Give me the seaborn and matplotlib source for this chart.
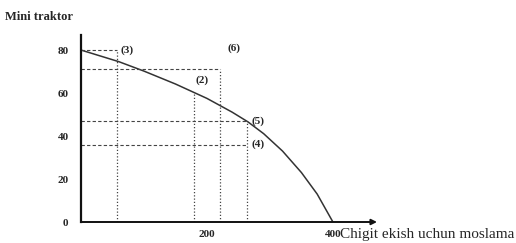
import matplotlib
matplotlib.use("Agg")
import matplotlib.pyplot as plt
import seaborn as sns
import pandas as pd

# production possibility curve
chigit = [0, 60, 100, 150, 200, 240, 265, 290, 320, 350, 375, 400]
traktor = [80, 74.6, 70.2, 64.2, 57.5, 51.1, 46.6, 41.1, 33, 23, 13, 0]

# guide lines: (x, y top) verticals and (y, x end) horizontals
vert_x = [57, 179, 221, 263]
vert_top = [80, 60, 71, 47]
horiz_y = [80, 71, 47, 36]
horiz_end = [57, 221, 263, 263]

# point labels
point_names = ["(3)", "(6)", "(2)", "(5)", "(4)"]
point_x = [62, 232, 182, 270, 270]
point_y = [80, 81, 66, 47, 36]

y_ticks = [0, 20, 40, 60, 80]
x_ticks = [200, 400]


def main():
    sns.set_style("white")
    plt.rcParams["font.family"] = ["Liberation Serif", "DejaVu Serif"]

    fig = plt.figure(figsize=(5.16, 2.43), dpi=100)
    ax = fig.add_axes([81 / 516, 21 / 243, 296 / 516, 187 / 243])

    df = pd.DataFrame({"x": chigit, "y": traktor})
    sns.lineplot(data=df, x="x", y="y", ax=ax, color="#333333", linewidth=1.1)

    for x, top in zip(vert_x, vert_top):
        ax.plot([x, x], [0, top], color="#444444", lw=0.9, ls=(0, (1, 1.6)))
    for y, end in zip(horiz_y, horiz_end):
        ax.plot([0, end], [y, y], color="#444444", lw=0.8, ls=(0, (3, 2)))

    for name, x, y in zip(point_names, point_x, point_y):
        ax.text(x, y, name, fontsize=8, fontweight="bold", ha="left", va="center")

    ax.set_xlim(0, 470)
    ax.set_ylim(0, 87)
    ax.set_xticks(x_ticks)
    ax.set_xticklabels([str(t) for t in x_ticks], fontsize=8, fontweight="bold")
    ax.set_yticks(y_ticks)
    ax.set_yticklabels([str(t) for t in y_ticks], fontsize=8, fontweight="bold")
    ax.tick_params(length=0, pad=9)
    ax.tick_params(axis="x", pad=6)
    ax.set_xlabel("")
    ax.set_ylabel("")

    for side in ["top", "right", "bottom"]:
        ax.spines[side].set_visible(False)
    ax.spines["left"].set_linewidth(1.6)
    ax.spines["left"].set_color("#111111")

    ax.annotate("", xy=(470, 0), xytext=(0, 0),
                arrowprops=dict(arrowstyle="-|>", color="#111111", lw=1.4,
                                shrinkA=0, shrinkB=0, mutation_scale=8),
                annotation_clip=False)

    ax.text(412, -5.6, "Chigit ekish uchun moslama", fontsize=11,
            ha="left", va="center", clip_on=False)
    fig.text(5 / 516, 1 - 17 / 243, "Mini traktor", fontsize=9,
             fontweight="bold", ha="left", va="center")

    fig.savefig("out.png", dpi=100)
    plt.close(fig)


if __name__ == "__main__":
    main()
